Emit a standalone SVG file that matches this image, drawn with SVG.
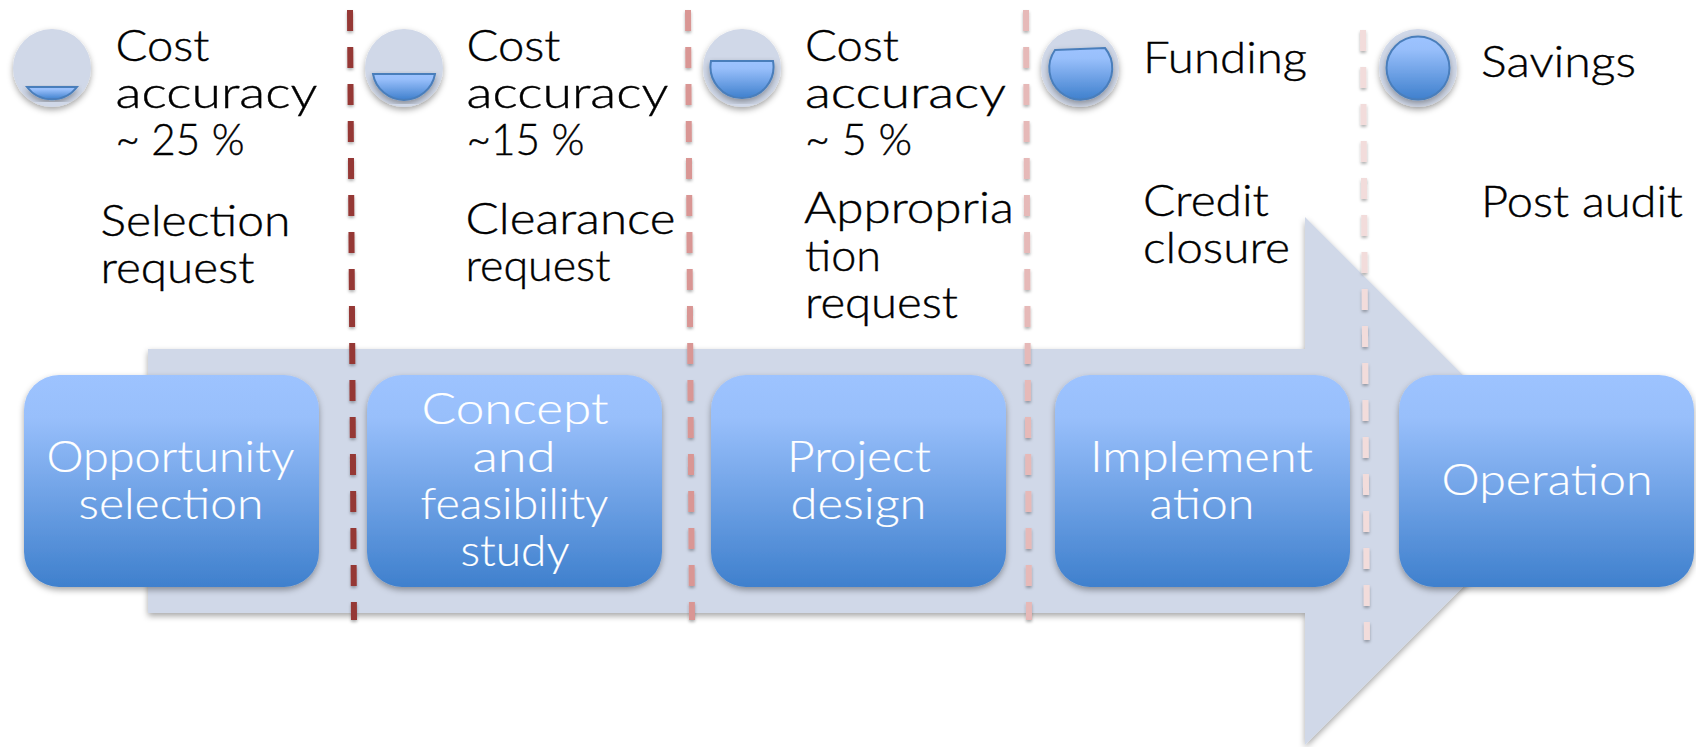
<svg xmlns="http://www.w3.org/2000/svg" width="1696" height="747" viewBox="0 0 1696 747">
<style>
text{font-family:"Lato","Open Sans","Liberation Sans",sans-serif;font-size:43px;font-weight:300}
.k{fill:#000;stroke:#000;stroke-width:.4}
.w{fill:#fff;stroke:#fff;stroke-width:.2}
.d{fill:none;stroke-width:6;stroke-dasharray:21 16;filter:url(#ds)}
.c{fill:#d0d8e8;filter:url(#s)}
.f{fill:url(#g);stroke:#4a7ebb;stroke-width:2;filter:url(#s)}
.b{fill:url(#g);filter:url(#s)}
</style>
<defs>
<linearGradient id="g" x1="0" y1="0" x2="0" y2="1">
<stop offset="0" stop-color="#9dc3ff"/><stop offset=".2" stop-color="#98bffb"/><stop offset="1" stop-color="#3f80cd"/>
</linearGradient>
<filter id="s" x="-10%" y="-10%" width="120%" height="125%">
<feDropShadow dx="0" dy="3" stdDeviation="3" flood-color="#000" flood-opacity=".35"/>
</filter>
<filter id="ds" x="-300%" y="-2%" width="700%" height="104%">
<feDropShadow dx="0" dy="2" stdDeviation="1.5" flood-color="#000" flood-opacity=".3"/>
</filter>
</defs>
<path id="arrow" class="c" d="M148 349H1305V217L1569 481L1305 745V613H148Z"/>
<g id="box1"><rect class="b" x="24" y="375" width="295" height="212" rx="35"/><text class="w" x="46.500" y="472" textLength="248" lengthAdjust="spacingAndGlyphs">Opportunity</text><text class="w" x="78.500" y="519" textLength="185" lengthAdjust="spacingAndGlyphs">selection</text></g>
<g id="box2"><rect class="b" x="367" y="375" width="295" height="212" rx="35"/><text class="w" x="421.500" y="424" textLength="187" lengthAdjust="spacingAndGlyphs">Concept</text><text class="w" x="472.500" y="472" textLength="83" lengthAdjust="spacingAndGlyphs">and</text><text class="w" x="420.500" y="519" textLength="188" lengthAdjust="spacingAndGlyphs">feasibility</text><text class="w" x="460.500" y="566" textLength="109" lengthAdjust="spacingAndGlyphs">study</text></g>
<g id="box3"><rect class="b" x="711" y="375" width="295" height="212" rx="35"/><text class="w" x="787" y="472" textLength="144" lengthAdjust="spacingAndGlyphs">Project</text><text class="w" x="790.500" y="519" textLength="136" lengthAdjust="spacingAndGlyphs">design</text></g>
<g id="box4"><rect class="b" x="1055" y="375" width="295" height="212" rx="35"/><text class="w" x="1090" y="472" textLength="223" lengthAdjust="spacingAndGlyphs">Implement</text><text class="w" x="1149.500" y="519" textLength="105" lengthAdjust="spacingAndGlyphs">ation</text></g>
<g id="box5"><rect class="b" x="1399" y="375" width="295" height="212" rx="35"/><text class="w" x="1441.500" y="495" textLength="211" lengthAdjust="spacingAndGlyphs">Operation</text></g>
<g id="connectors">
<path class="d" stroke="#953735" d="M350 10L354 620"/>
<path class="d" stroke="#d99694" d="M688 10L692 620"/>
<path class="d" stroke="#e6b9b8" d="M1026 10L1029 620"/>
<path class="d" stroke="#f2dcdb" d="M1363 30L1367 640"/>
</g>
<g id="gauge1"><circle class="c" cx="52" cy="68" r="39"/><path class="f" d="M27 87H77A31.5 31.500 0 0 1 27 87Z"/></g>
<g id="gauge2"><circle class="c" cx="404" cy="68" r="39"/><path class="f" d="M373 74H435A31.5 31.500 0 0 1 373 74Z"/></g>
<g id="gauge3"><circle class="c" cx="742" cy="68" r="39"/><path class="f" d="M711 61H773A31.5 31.500 0 1 1 711 61Z"/></g>
<g id="gauge4"><circle class="c" cx="1080" cy="68" r="39"/><path class="f" d="M1055 50L1105 48A31.5 31.500 0 1 1 1055 50Z"/></g>
<g id="gauge5"><circle class="c" cx="1418" cy="68" r="39"/><circle class="f" cx="1418" cy="68" r="31.5"/></g>
<g id="col1"><text class="k" x="115.500" y="61" textLength="94" lengthAdjust="spacingAndGlyphs">Cost</text><text class="k" x="115.500" y="108" textLength="202" lengthAdjust="spacingAndGlyphs">accuracy</text><text class="k" x="115.500" y="155" textLength="129" lengthAdjust="spacingAndGlyphs">~ 25 %</text><text class="k" x="100.500" y="236" textLength="190" lengthAdjust="spacingAndGlyphs">Selection</text><text class="k" x="100.500" y="283" textLength="154" lengthAdjust="spacingAndGlyphs">request</text></g>
<g id="col2"><text class="k" x="466.500" y="61" textLength="94" lengthAdjust="spacingAndGlyphs">Cost</text><text class="k" x="466.500" y="108" textLength="202" lengthAdjust="spacingAndGlyphs">accuracy</text><text class="k" x="466.500" y="155" textLength="118" lengthAdjust="spacingAndGlyphs">~15 %</text><text class="k" x="465.500" y="234" textLength="210" lengthAdjust="spacingAndGlyphs">Clearance</text><text class="k" x="465.500" y="281" textLength="145" lengthAdjust="spacingAndGlyphs">request</text></g>
<g id="col3"><text class="k" x="805" y="61" textLength="94" lengthAdjust="spacingAndGlyphs">Cost</text><text class="k" x="805" y="108" textLength="201" lengthAdjust="spacingAndGlyphs">accuracy</text><text class="k" x="805" y="155" textLength="107" lengthAdjust="spacingAndGlyphs">~ 5 %</text><text class="k" x="804" y="223" textLength="210" lengthAdjust="spacingAndGlyphs">Appropria</text><text class="k" x="805" y="271" textLength="76" lengthAdjust="spacingAndGlyphs">tion</text><text class="k" x="805" y="318" textLength="153" lengthAdjust="spacingAndGlyphs">request</text></g>
<g id="col4"><text class="k" x="1143" y="73" textLength="164" lengthAdjust="spacingAndGlyphs">Funding</text><text class="k" x="1143" y="216" textLength="126" lengthAdjust="spacingAndGlyphs">Credit</text><text class="k" x="1143" y="263" textLength="147" lengthAdjust="spacingAndGlyphs">closure</text></g>
<g id="col5"><text class="k" x="1481" y="77" textLength="155" lengthAdjust="spacingAndGlyphs">Savings</text><text class="k" x="1481" y="217" textLength="202" lengthAdjust="spacingAndGlyphs">Post audit</text></g>
</svg>
